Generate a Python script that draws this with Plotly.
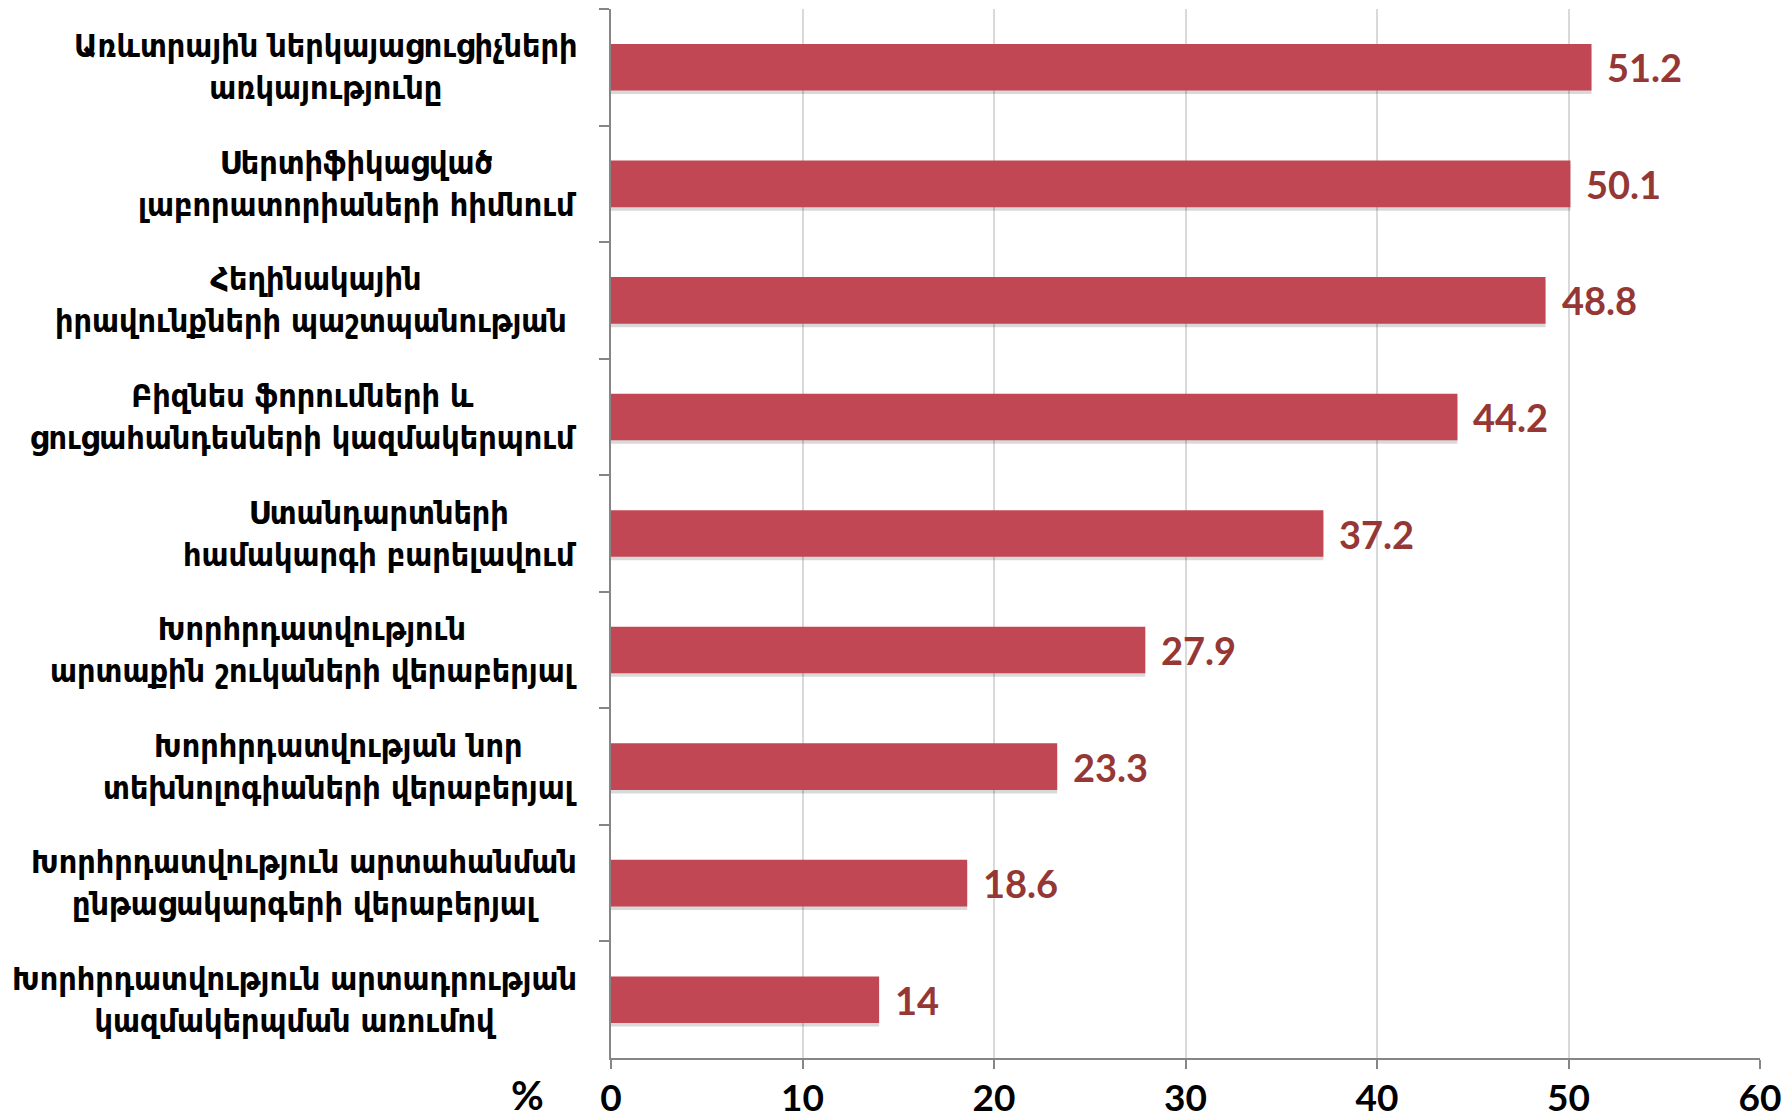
import plotly.graph_objects as go

# survey answers, top to bottom
labels = [
    "Առևտրային ներկայացուցիչների<br>առկայությունը",
    "Սերտիֆիկացված<br>լաբորատորիաների հիմնում",
    "Հեղինակային<br>իրավունքների պաշտպանության ",
    "Բիզնես ֆորումների և<br>ցուցահանդեսների կազմակերպում",
    "Ստանդարտների<br>համակարգի բարելավում",
    "Խորհրդատվություն<br>արտաքին շուկաների վերաբերյալ",
    "Խորհրդատվության նոր<br>տեխնոլոգիաների վերաբերյալ",
    "Խորհրդատվություն արտահանման<br>ընթացակարգերի վերաբերյալ",
    "Խորհրդատվություն արտադրության<br>կազմակերպման առումով",
]
values = [51.2, 50.1, 48.8, 44.2, 37.2, 27.9, 23.3, 18.6, 14]
value_text = ["51.2", "50.1", "48.8", "44.2", "37.2", "27.9", "23.3", "18.6", "14"]
x_ticks = [0, 10, 20, 30, 40, 50, 60]

cats = [f"c{i}" for i in range(len(labels))]

bar_color = "#C04753"
text_color = "#953735"
num_font = "Lato, Calibri, 'Open Sans', sans-serif"
arm_font = "'DejaVu Sans Condensed', 'DejaVu Sans', sans-serif"

fig = go.Figure()

# soft drop shadow under each bar
fig.add_trace(go.Bar(
    y=cats, x=values, orientation="h",
    width=0.4, offset=-0.17,
    marker=dict(color="rgba(0,0,0,0.15)", line=dict(width=0)),
    hoverinfo="skip", showlegend=False,
))

fig.add_trace(go.Bar(
    y=cats, x=values, orientation="h",
    width=0.4, offset=-0.2,
    marker=dict(color=bar_color, line=dict(width=0)),
    showlegend=False,
))

# value labels
for c, v, t in zip(cats, values, value_text):
    fig.add_annotation(
        x=v, xref="x", y=c, yref="y",
        xanchor="left", yanchor="middle", xshift=14,
        text=t, showarrow=False,
        font=dict(family=num_font, size=38, color=text_color, weight="bold"),
    )

# category labels: block right-aligned, lines centered
for c, lab in zip(cats, labels):
    fig.add_annotation(
        x=0, xref="paper", y=c, yref="y",
        xanchor="right", yanchor="middle", xshift=-32,
        text=lab, align="center", showarrow=False,
        font=dict(family=arm_font, size=32, color="black", weight="bold"),
    )

fig.add_annotation(
    x=0, xref="paper", y=0, yref="paper",
    xanchor="center", yanchor="middle", xshift=-84, yshift=-37,
    text="%", showarrow=False,
    font=dict(family=num_font, size=40, color="black", weight="bold"),
)

fig.update_layout(
    width=1774, height=1104,
    margin=dict(l=603, r=22, t=1, b=54),
    plot_bgcolor="white", paper_bgcolor="white",
    barmode="overlay",
)
fig.update_xaxes(
    range=[0, 60], tickvals=x_ticks, automargin=False,
    showgrid=True, gridcolor="#D9D9D9", gridwidth=1.5,
    showline=True, linecolor="#868686", linewidth=2,
    ticks="outside", ticklen=9, tickcolor="#868686", tickwidth=2,
    ticklabelstandoff=-2, ticklabeloverflow="allow",
    tickfont=dict(family=num_font, size=37, color="black", weight="bold"),
    zeroline=False,
)
fig.update_yaxes(
    categoryorder="array", categoryarray=cats, autorange="reversed",
    showticklabels=False, automargin=False,
    showline=True, linecolor="#868686", linewidth=2,
    ticks="outside", ticklen=10, tickcolor="#868686", tickwidth=2,
    tickson="boundaries", showgrid=False,
)

fig.write_html("out.html")
